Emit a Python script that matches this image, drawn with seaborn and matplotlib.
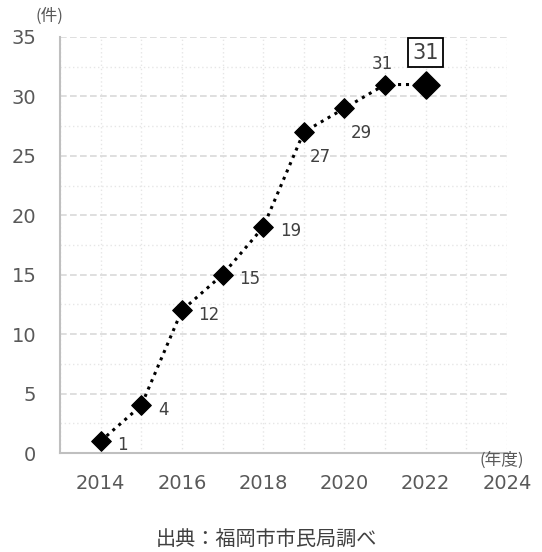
import matplotlib
matplotlib.use("Agg")
import matplotlib.pyplot as plt
import seaborn as sns
import pandas as pd
from matplotlib.ticker import MultipleLocator

years = [2014, 2015, 2016, 2017, 2018, 2019, 2020, 2021, 2022]
counts = [1, 4, 12, 15, 19, 27, 29, 31, 31]
label_pos = ["right", "right", "right", "right", "right", "below", "below", "above", "box"]

sns.set_style("white")
plt.rcParams['font.family'] = ['DejaVu Sans', 'Noto Sans CJK JP']

df = pd.DataFrame({"year": years, "count": counts})

fig = plt.figure(figsize=(5.42, 5.52), dpi=100)
ax = fig.add_axes([0.1107, 0.1793, 0.8247, 0.7537])

ax.set_xlim(2013, 2024)
ax.set_ylim(0, 35)
ax.xaxis.set_major_locator(MultipleLocator(2))
ax.xaxis.set_minor_locator(MultipleLocator(1))
ax.yaxis.set_major_locator(MultipleLocator(5))
ax.yaxis.set_minor_locator(MultipleLocator(2.5))
ax.grid(which="major", axis="y", color="#d9d9d9", linestyle=(0, (4, 2)), linewidth=1.2)
ax.grid(which="minor", axis="y", color="#e6e6e6", linestyle=(0, (1, 2)), linewidth=1)
ax.grid(which="both", axis="x", color="#e6e6e6", linestyle=(0, (1, 2)), linewidth=1)
ax.set_axisbelow(True)

sns.lineplot(data=df, x="year", y="count", ax=ax, color="black",
             linestyle=(0, (1, 1.6)), linewidth=2.2, zorder=3)
sns.scatterplot(data=df.iloc[:-1], x="year", y="count", ax=ax, marker="D",
                s=100, color="black", edgecolor="black", zorder=4)
sns.scatterplot(data=df.iloc[-1:], x="year", y="count", ax=ax, marker="D",
                s=190, color="black", edgecolor="black", zorder=4)

for x, y, p in zip(years, counts, label_pos):
    if p == "right":
        ax.annotate(str(y), (x, y), xytext=(12, -3), textcoords="offset points",
                    ha="left", va="center", fontsize=12, color="#404040")
    elif p == "below":
        ax.annotate(str(y), (x, y), xytext=(12, -18), textcoords="offset points",
                    ha="center", va="center", fontsize=12, color="#404040")
    elif p == "above":
        ax.annotate(str(y), (x, y), xytext=(-2, 15), textcoords="offset points",
                    ha="center", va="center", fontsize=12, color="#404040")
    else:
        ax.annotate(str(y), (x, y), xytext=(0, 23), textcoords="offset points",
                    ha="center", va="center", fontsize=15, color="#404040",
                    bbox=dict(boxstyle="square,pad=0.2", fc="white", ec="black", lw=1.3))

for s in ["top", "right"]:
    ax.spines[s].set_visible(False)
for s in ["left", "bottom"]:
    ax.spines[s].set_color("#bfbfbf")
    ax.spines[s].set_linewidth(1.5)

ax.set_xlabel("")
ax.set_ylabel("")
ax.tick_params(axis="both", which="both", length=0)
ax.tick_params(axis="x", labelsize=14, labelcolor="#595959", pad=15)
ax.tick_params(axis="y", labelsize=14, labelcolor="#595959", pad=17)

fig.text(49/542, 1-16/552, "(件)", fontsize=12, color="#595959",
         ha="center", va="center", family=['Noto Sans CJK JP', 'DejaVu Sans'])
fig.text(502/542, 1-460/552, "(年度)", fontsize=12, color="#595959",
         ha="center", va="center", family=['Noto Sans CJK JP', 'DejaVu Sans'])
fig.text(266/542, 1-540/552, "出典：福岡市市民局調べ", fontsize=14.5, color="#404040",
         ha="center", va="center", family=['Noto Sans CJK JP', 'DejaVu Sans'])

fig.savefig("out.png", dpi=100)
